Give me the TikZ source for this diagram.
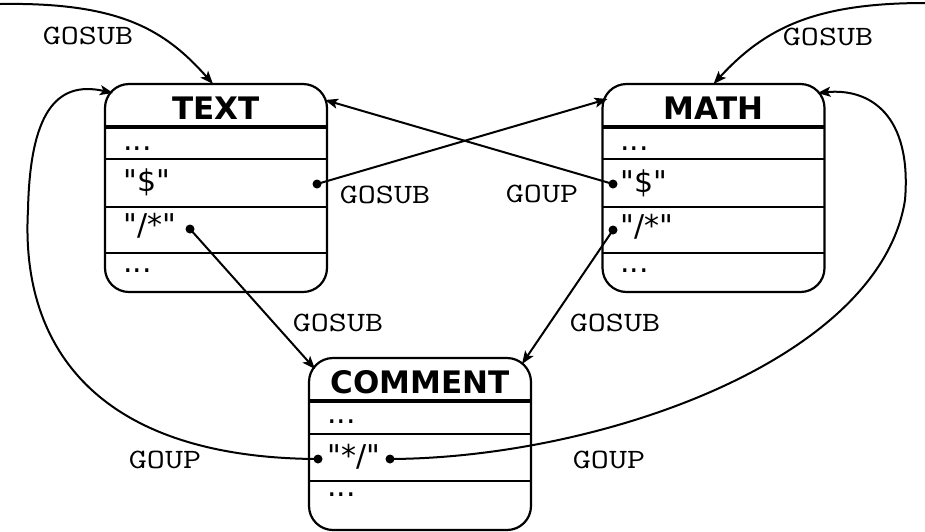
\documentclass[tikz,border=0pt]{standalone}
\usepackage{fontspec}
\usetikzlibrary{arrows.meta}
\newfontfamily\boxfont{DejaVu Sans}

\begin{document}
\begin{tikzpicture}[
  x=0.5pt, y=-0.5pt,
  state/.style={draw, line width=1.1pt, rounded corners=12pt, minimum width=111pt, inner sep=0pt, outer sep=0pt},
  title/.style={anchor=base, inner sep=0pt, font=\boxfont\bfseries\fontsize{15.5}{18}\selectfont},
  entry/.style={anchor=base west, inner sep=0pt, font=\boxfont\fontsize{15}{18}\selectfont},
  sep/.style={line width=1pt},
  headsep/.style={line width=1.6pt},
  nodept/.style={circle, fill=black, inner sep=0pt, minimum size=4.5pt},
  edge/.style={line width=1pt, -{Stealth[length=6.5pt, width=5pt, inset=1.5pt]}},
  lbl/.style={inner sep=0pt, font=\ttfamily\fontsize{14}{16}\selectfont, xscale=1.25, transform shape}
]
\path[fill=white] (0,0) rectangle (925,531);
\useasboundingbox (0,0) rectangle (925,531);

% State boxes
\node[state, minimum height=104pt] (text) at (216,188) {};
\node[state, minimum height=104pt] (math) at (713.5,188) {};
\node[state, minimum height=86pt] (comment) at (420,444) {};

% Row separators
\foreach \b in {text, math, comment} {
  \draw[headsep] ([yshift=-21.5pt]\b.north west) -- ([yshift=-21.5pt]\b.north east);
}
\foreach \d in {37.5, 61.5, 84.5} {
  \draw[sep] ([yshift=-\d pt]text.north west) -- ([yshift=-\d pt]text.north east);
  \draw[sep] ([yshift=-\d pt]math.north west) -- ([yshift=-\d pt]math.north east);
}
\foreach \d in {38, 61.5} {
  \draw[sep] ([yshift=-\d pt]comment.north west) -- ([yshift=-\d pt]comment.north east);
}

% TEXT rows
\node[title] (texttitle) at (216,119) {TEXT};
\node[entry] (text1) at (123,150) {...};
\node[entry] (text2) at (123,191) {"\$"};
\node[entry] (text3) at (123,235) {"/*"};
\node[entry] (text4) at (123,272) {...};

% MATH rows
\node[title] (mathtitle) at (713.5,119) {MATH};
\node[entry] (math1) at (620,150) {...};
\node[entry] (math2) at (620,192) {"\$"};
\node[entry] (math3) at (620,236) {"/*"};
\node[entry] (math4) at (620,272) {...};

% COMMENT rows
\node[title] (commenttitle) at (420,393) {COMMENT};
\node[entry] (comment1) at (327,423) {...};
\node[entry] (comment2) at (327,466) {"*/"};
\node[entry] (comment3) at (327,496) {...};

% Transition points
\node[nodept] (textdollar) at (317,184) {};
\node[nodept] (textopen) at (190,229) {};
\node[nodept] (mathdollar) at (613,184) {};
\node[nodept] (mathopen) at (613,230) {};
\node[nodept] (commentl) at (318,459) {};
\node[nodept] (commentr) at (390,459) {};
\coordinate (textentry) at (0,4);
\coordinate (mathentry) at (925,3);

% Transitions
\draw[edge] (textentry) .. controls (120,2) and (165,30) .. ([xshift=-1.5pt]text.north);
\draw[edge] (mathentry) .. controls (815,3) and (765,28) .. (math.north);
\draw[edge] (textdollar.center) -- ([xshift=2.5pt, yshift=-7.5pt]math.north west);
\draw[edge] (mathdollar.center) -- ([xshift=-1pt, yshift=-8pt]text.north east);
\draw[edge] (textopen.center) -- ([xshift=3pt, yshift=-5.5pt]comment.north west);
\draw[edge] (mathopen.center) -- ([xshift=-4.5pt, yshift=-3pt]comment.north east);
\draw[edge] (commentl.center) .. controls (100,458) and (20,350) .. (28,210)
  .. controls (30,115) and (55,80) .. ([xshift=4pt, yshift=-4.5pt]text.north west);
\draw[edge] (commentr.center) .. controls (600,458) and (880,360) .. (905,200)
  .. controls (912,115) and (870,88) .. ([xshift=-3.5pt, yshift=-4.5pt]math.north east);

% Labels
\node[lbl] (gosubtext) at (88,36) {GOSUB};
\node[lbl] (gosubmath) at (828,37) {GOSUB};
\node[lbl] (gosubdollar) at (385,195) {GOSUB};
\node[lbl] (goupdollar) at (542,194) {GOUP};
\node[lbl] (gosubopenl) at (338,323) {GOSUB};
\node[lbl] (gosubopenr) at (615,323) {GOSUB};
\node[lbl] (goupl) at (165,460) {GOUP};
\node[lbl] (goupr) at (609,460) {GOUP};

\end{tikzpicture}
\end{document}
